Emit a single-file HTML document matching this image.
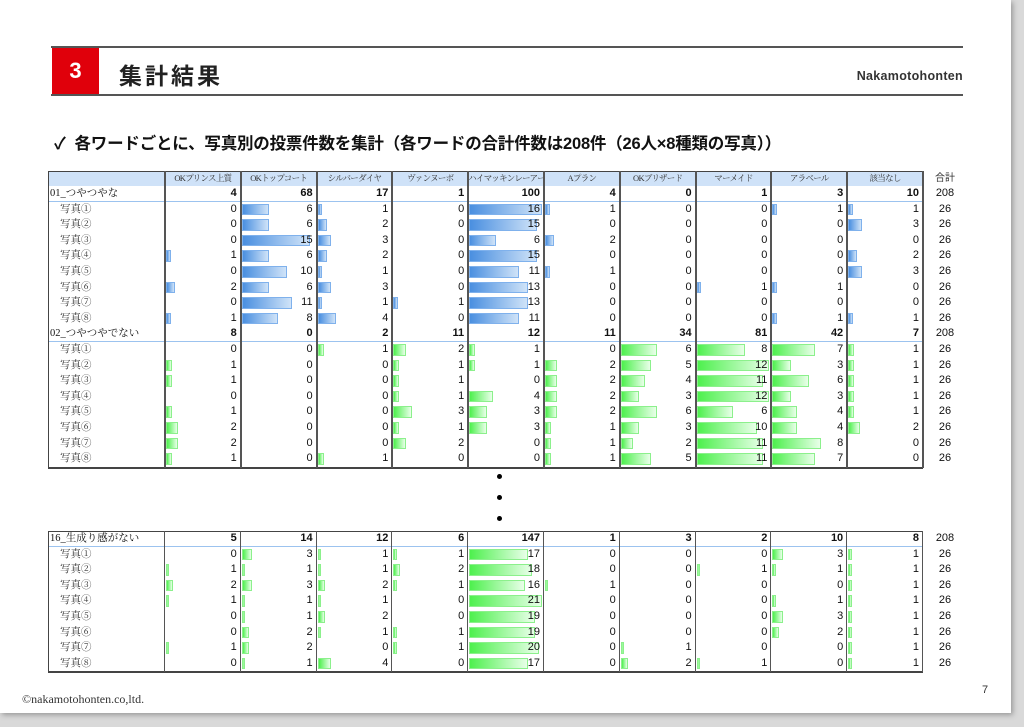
<!DOCTYPE html>
<html><head><meta charset="utf-8"><style>
body{margin:0;width:1024px;height:727px;background:#d9d9d9;position:relative;overflow:hidden;font-family:"Liberation Sans","Noto Sans CJK JP",sans-serif}
#page{position:absolute;left:0;top:0;width:1011px;height:713px;background:#fff;box-shadow:2px 2px 5px #999}
.a{position:absolute;white-space:nowrap}
.t{position:absolute;font-size:11px;line-height:15px;color:#111;white-space:nowrap;overflow:hidden}
</style></head><body>
<div id="page"></div>
<div class="a" style="left:51px;top:46px;width:912px;height:2px;background:#555"></div>
<div class="a" style="left:51px;top:94px;width:912px;height:2px;background:#555"></div>
<div class="a" style="left:52px;top:48px;width:47px;height:46px;background:#e0000b"></div>
<div class="a" style="left:52px;top:58px;width:47px;text-align:center;color:#fff;font-size:22px;font-weight:bold">3</div>
<div class="a" style="left:119px;top:57px;font-size:23px;letter-spacing:3px;font-weight:bold;color:#222;font-family:'Noto Sans CJK JP',sans-serif">集計結果</div>
<div class="a" style="right:61px;top:69px;font-size:12.5px;letter-spacing:0.3px;font-weight:bold;color:#333">Nakamotohonten</div>
<div class="a" style="left:54px;top:130px;font-size:16.5px;letter-spacing:-0.2px;font-weight:bold;color:#111;font-family:'Liberation Sans','Noto Sans CJK JP',sans-serif">✓&nbsp;&nbsp;各ワードごとに、写真別の投票件数を集計（各ワードの合計件数は208件（26人×8種類の写真））</div>
<div class="a" style="left:22px;top:692px;font-size:12px;color:#333;font-family:'Liberation Serif',serif">©nakamotohonten.co,ltd.</div>
<div class="a" style="left:982px;top:684px;font-size:11px;color:#333">7</div>
<div class="a" style="left:497px;top:474px;width:5px;height:5px;border-radius:50%;background:#000"></div>
<div class="a" style="left:497px;top:495px;width:5px;height:5px;border-radius:50%;background:#000"></div>
<div class="a" style="left:497px;top:516px;width:5px;height:5px;border-radius:50%;background:#000"></div>
<div id="c"></div>
<script>
var H=["OKプリンス上質","OKトップコート","シルバーダイヤ","ヴァンヌーボ","ハイマッキンレーアート","Aプラン","OKブリザード","マーメイド","アラベール","該当なし"];
var P=["①","②","③","④","⑤","⑥","⑦","⑧"];
var B1={n:"01_つやつやな",s:[4,68,17,1,100,4,0,1,3,10],r:[[0,6,1,0,16,1,0,0,1,1],[0,6,2,0,15,0,0,0,0,3],[0,15,3,0,6,2,0,0,0,0],[1,6,2,0,15,0,0,0,0,2],[0,10,1,0,11,1,0,0,0,3],[2,6,3,0,13,0,0,1,1,0],[0,11,1,1,13,0,0,0,0,0],[1,8,4,0,11,0,0,0,1,1]],blue:1};
var B2={n:"02_つやつやでない",s:[8,0,2,11,12,11,34,81,42,7],r:[[0,0,1,2,1,0,6,8,7,1],[1,0,0,1,1,2,5,12,3,1],[1,0,0,1,0,2,4,11,6,1],[0,0,0,1,4,2,3,12,3,1],[1,0,0,3,3,2,6,6,4,1],[2,0,0,1,3,1,3,10,4,2],[2,0,0,2,0,1,2,11,8,0],[1,0,1,0,0,1,5,11,7,0]]};
var B3={n:"16_生成り感がない",s:[5,14,12,6,147,1,3,2,10,8],r:[[0,3,1,1,17,0,0,0,3,1],[1,1,1,2,18,0,0,1,1,1],[2,3,2,1,16,1,0,0,0,1],[1,1,1,0,21,0,0,0,1,1],[0,1,2,0,19,0,0,0,3,1],[0,2,1,1,19,0,0,0,2,1],[1,2,0,1,20,0,1,0,0,1],[0,1,4,0,17,0,2,1,0,1]]};
var o="",L=48,C0=165,CW=75.8,RH=15.6;
function d(x,y,w,h,st){o+='<div class="a" style="left:'+x+'px;top:'+y+'px;width:'+w+'px;height:'+h+'px;'+st+'"></div>';}
function t(x,y,w,s,al,st){o+='<div class="t" style="left:'+x+'px;top:'+y+'px;width:'+w+'px;text-align:'+al+';'+(st||"")+'">'+s+'</div>';}
function block(b,y){
 t(L+2,y,115,b.n,"left","font-family:'Liberation Serif','Noto Serif CJK SC',serif;font-size:10.5px");
 for(var i=0;i<10;i++)t(C0+i*CW,y,CW-4,b.s[i],"right","font-weight:bold");
 t(925,y,40,208,"center");
 d(L,y+RH-1,875,1,"background:#9cc3ef");
 var m=0;b.r.forEach(function(r){r.forEach(function(v){if(v>m)m=v;});});
 for(var k=0;k<8;k++){var yy=y+RH*(k+1);
  t(L+12,yy,100,"写真"+P[k],"left","font-family:'Liberation Serif','Noto Serif CJK SC',serif;font-size:10.5px;color:#333");
  for(var i=0;i<10;i++){var v=b.r[k][i],x=C0+i*CW;
   if(v>0){var w=Math.max(2,v/m*(CW-3));
    d(x+1,yy+2,w,RH-4,b.blue?"box-sizing:border-box;border:1px solid #7fb1ec;background:linear-gradient(90deg,#4a8fe0,#cfe3f8)":"box-sizing:border-box;border:1px solid #8cf08c;background:linear-gradient(90deg,#4ef04e,#e8ffe8)");}
   t(x,yy,CW-4,v,"right");}
  t(925,yy,40,26,"center");}
}
d(L,171,875,15,"background:#cfe2f8");
for(var i=0;i<10;i++)t(C0+i*CW,171,CW,H[i],"center","font-family:'Liberation Serif','Noto Serif CJK SC',serif;font-size:8.5px;letter-spacing:-0.7px;color:#333");
t(925,171,40,"合計","center","font-size:10px;color:#333");
block(B1,186);block(B2,186+9*RH);
d(L,171,875,1,"background:#444");d(L,467,875,2,"background:#444");d(L,171,1,297,"background:#444");
for(var i=0;i<=10;i++)d(Math.round(C0+i*CW)-1,171,1.5,297,"background:#555");
block(B3,531);
d(L,531,875,1,"background:#444");d(L,671,875,2,"background:#444");d(L,531,1,141,"background:#444");
for(var i=0;i<=10;i++)d(Math.round(C0+i*CW)-1,531,1.2,141,"background:#555");
document.getElementById("c").innerHTML=o;
</script>
</body></html>
